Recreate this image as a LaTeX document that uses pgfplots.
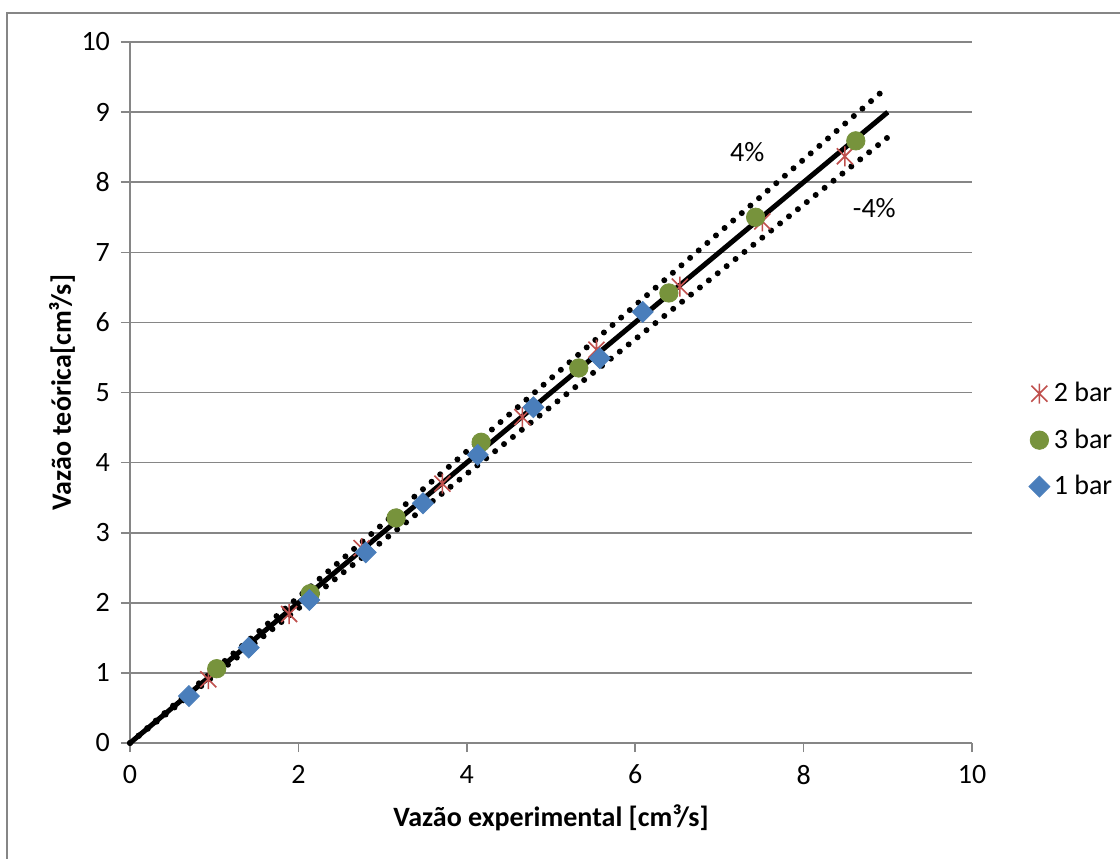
\documentclass[border=0pt]{standalone}
\usepackage{fontspec}
\setmainfont{Carlito}
\usepackage{pgfplots}
\pgfplotsset{compat=1.18}
\definecolor{gridgray}{RGB}{134,134,134}
\definecolor{cRed}{RGB}{192,80,77}
\definecolor{cGreen}{RGB}{119,147,60}
\definecolor{cBlue}{RGB}{74,126,187}
\pgfdeclareplotmark{xstar}{%
  \pgfpathmoveto{\pgfqpoint{-.8\pgfplotmarksize}{-.8\pgfplotmarksize}}%
  \pgfpathlineto{\pgfqpoint{.8\pgfplotmarksize}{.8\pgfplotmarksize}}%
  \pgfpathmoveto{\pgfqpoint{-.8\pgfplotmarksize}{.8\pgfplotmarksize}}%
  \pgfpathlineto{\pgfqpoint{.8\pgfplotmarksize}{-.8\pgfplotmarksize}}%
  \pgfpathmoveto{\pgfqpoint{0pt}{-\pgfplotmarksize}}%
  \pgfpathlineto{\pgfqpoint{0pt}{\pgfplotmarksize}}%
  \pgfusepathqstroke}
\begin{document}
\begin{tikzpicture}
\useasboundingbox (0,0) rectangle (560pt,429pt);
\fill[white] (0,0) rectangle (560pt,429pt);
\draw[gridgray, line width=0.8pt] (3.5pt,-20pt) -- (3.5pt,422.5pt) -- (600pt,422.5pt);
\begin{axis}[
  at={(65pt,57.5pt)}, anchor=south west,
  scale only axis, width=421pt, height=350.5pt,
  xmin=0, xmax=10, ymin=0, ymax=10,
  xtick={0,2,...,10}, ytick={0,1,...,10},
  axis lines=left, axis line style={-, gridgray, line width=0.8pt},
  ymajorgrids, grid style={gridgray, line width=0.8pt},
  tick align=outside, major tick length=4.5pt,
  tick style={gridgray, line width=0.8pt},
  /pgf/number format/assume math mode=true,
  ticklabel style={font=\fontsize{14}{16}\selectfont},
  xticklabel style={yshift=-3pt},
  yticklabel style={xshift=-2pt},
  xlabel={Vazão experimental [cm³/s]},
  ylabel={Vazão teórica[cm³/s]},
  label style={font=\fontsize{14}{16}\selectfont\bfseries},
  xlabel style={at={(axis description cs:0.5,-0.107)}, anchor=center},
  ylabel style={at={(axis description cs:-0.0808,0.5)}, anchor=center},
  legend style={draw=none, fill=none, at={(1.06,0.432)}, anchor=west,
    font=\fontsize{14}{16}\selectfont, row sep=8pt},
  legend cell align=left,
  clip=false,
]
\addplot[black, line width=2.5pt, forget plot] coordinates {(0,0) (9,9)};
\addplot[black, line width=3pt, line cap=round, dash pattern=on 0pt off 5.7pt, forget plot] coordinates {(0,0) (8.91,9.27)};
\addplot[black, line width=3pt, line cap=round, dash pattern=on 0pt off 5.7pt, forget plot] coordinates {(0,0) (9.0,8.64)};
\addplot[cRed, only marks, mark=xstar, mark size=5pt, mark options={line width=0.8pt}] coordinates {
 (0.93,0.91) (1.89,1.84) (2.75,2.78) (3.71,3.70) (4.66,4.65) (5.54,5.61) (6.53,6.51) (7.51,7.44) (8.49,8.37)};
\addlegendentry{2 bar}
\addplot[cGreen, only marks, mark=*, mark size=4.6pt] coordinates {
 (1.03,1.06) (2.14,2.13) (3.16,3.21) (4.17,4.29) (5.33,5.35) (6.40,6.42) (7.43,7.50) (8.62,8.59)};
\addlegendentry{3 bar}
\addplot[cBlue, only marks, mark=square*, mark size=3.7pt, mark options={rotate=45}] coordinates {
 (0.70,0.67) (1.41,1.36) (2.13,2.04) (2.80,2.72) (3.48,3.42) (4.13,4.11) (4.79,4.79) (5.58,5.49) (6.09,6.15)};
\addlegendentry{1 bar}
\node[font=\fontsize{14}{16}\selectfont] at (axis cs:7.33,8.43) {4\%};
\node[font=\fontsize{14}{16}\selectfont] at (axis cs:8.84,7.63) {-4\%};
\end{axis}
\end{tikzpicture}
\end{document}
